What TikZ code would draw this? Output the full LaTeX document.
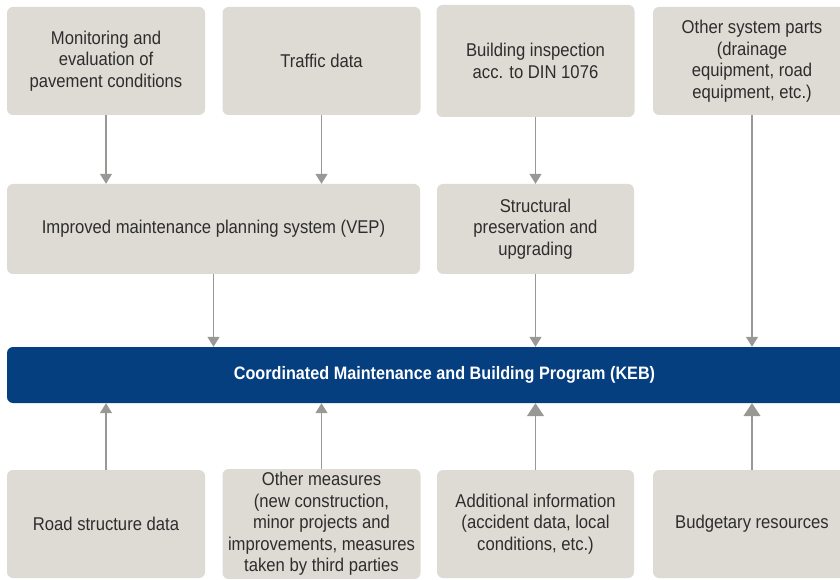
\documentclass[tikz,border=0pt]{standalone}
\usepackage{fontspec}
\setmainfont[FakeStretch=0.9]{Liberation Sans}
\usepackage{xcolor}
\usetikzlibrary{arrows.meta, positioning}
\definecolor{kebblue}{RGB}{6, 63, 128}
\definecolor{boxgrey}{RGB}{222, 219, 212}
\definecolor{arrowgrey}{RGB}{152, 152, 148}
\definecolor{textgrey}{RGB}{45, 45, 45}
\tikzset{
    infobox/.style={rectangle, rounded corners=6pt, fill=boxgrey, minimum width=198pt, minimum height=108pt, align=center, text=textgrey, font=\fontsize{18.5}{21.5}\selectfont},
    planbox/.style={infobox, minimum height=90pt},
    programbar/.style={rectangle, rounded corners=6pt, fill=kebblue, minimum width=875pt, minimum height=56pt, text=white, font=\bfseries\fontsize{18}{20}\selectfont},
    arrow/.style={draw=arrowgrey, line width=1.3pt, -{Triangle[width=12pt,length=10pt]}},
    bigarrow/.style={arrow, -{Triangle[width=17pt,length=13pt]}}
}

\begin{document}
\begin{tikzpicture}[x=1pt, y=1pt]
    \clip (0,0) rectangle (840,579);
    \node (monitor) [infobox] at (106,518) {Monitoring and\\evaluation of\\pavement conditions};
    \node (traffic) [infobox] at (321.5,518) {Traffic data};
    \node (inspect) [infobox, minimum height=112pt] at (535.5,518) {Building inspection\\acc. to DIN 1076};
    \node (parts) [infobox] at (752,518) {Other system parts\\(drainage\\equipment, road\\equipment, etc.)};

    \node (vep) [planbox, minimum width=413pt] at (213.5,350) {Improved maintenance planning system (VEP)};
    \node (struct) [planbox, minimum width=197pt] at (535.5,350) {Structural\\preservation and\\upgrading};

    \node (keb) [programbar] at (444.5,204) {Coordinated Maintenance and Building Program (KEB)};

    \node (road) [infobox] at (106,55) {Road structure data};
    \node (measures) [infobox] at (321.5,55) {Other measures\\(new construction,\\minor projects and\\improvements, measures\\taken by third parties};
    \node (addinfo) [infobox, minimum width=197pt] at (535.5,55) {Additional information\\(accident data, local\\conditions, etc.)};
    \node (budget) [infobox] at (752,55) {Budgetary resources};

    \draw [arrow] (monitor) -- (monitor |- vep.north);
    \draw [arrow] (traffic) -- (traffic |- vep.north);
    \draw [arrow] (inspect) -- (struct);
    \draw [arrow] (parts) -- (parts |- keb.north);
    \draw [arrow] (vep) -- (vep |- keb.north);
    \draw [arrow] (struct) -- (struct |- keb.north);

    \draw [arrow] (road) -- (road |- keb.south);
    \draw [arrow] (measures) -- (measures |- keb.south);
    \draw [bigarrow] (addinfo) -- (addinfo |- keb.south);
    \draw [bigarrow] (budget) -- (budget |- keb.south);
\end{tikzpicture}
\end{document}
